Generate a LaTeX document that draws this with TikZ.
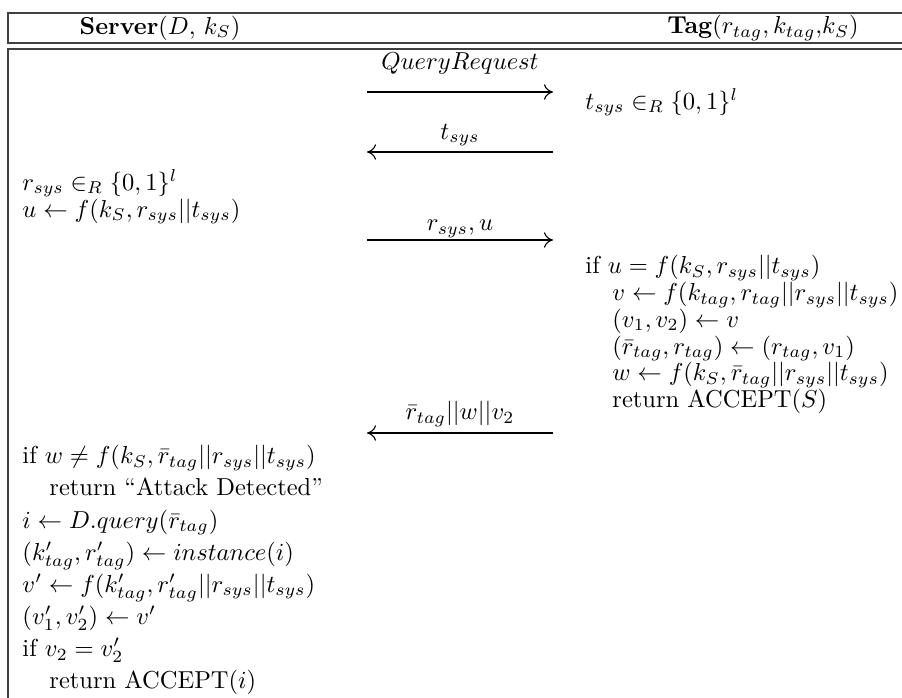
\documentclass[tikz,border=0pt]{standalone}
\usepackage{amsmath,amssymb}
\usetikzlibrary{arrows.meta}

\begin{document}
\begin{tikzpicture}[
  x=0.408pt,y=-0.408pt,
  frame/.style={draw=black!75,line width=0.9pt},
  party/.style={inner sep=0pt},
  proc/.style={anchor=north west,align=left,inner sep=0pt,font=\fontsize{10}{#1}\selectfont},
  proc/.default=10.9pt,
  msg/.style={-{To[length=1.3mm,width=2.2mm]},line width=0.45pt},
  lbl/.style={inner sep=0pt}
]
  \useasboundingbox (0,0) rectangle (902,698);
  % table frame
  \draw[frame] (905,13) -| (8,43) -- (905,43);
  \draw[frame] (905,49) -| (8,705);
  % header
  \node[party] (srv) at (160,28) {\textbf{Server}$(D,\,k_S)$};
  \node[party] (tag) at (763,28) {\textbf{Tag}$(r_{tag}, k_{tag}$,$k_S)$};
  % message ends
  \coordinate (q1) at (367,92);   \coordinate (q2) at (553,92);
  \coordinate (t1) at (367,152);  \coordinate (t2) at (553,152);
  \coordinate (u1) at (367,240);  \coordinate (u2) at (553,240);
  \coordinate (w1) at (367,433);  \coordinate (w2) at (553,433);
  % computations
  \node[proc] (tgen) at (585,88) {$t_{sys} \in_R \{0,1\}^l$};
  \node[proc] (rgen) at (22,169) {$r_{sys} \in_R \{0,1\}^l$\\
    $u \leftarrow f(k_S, r_{sys}||t_{sys})$};
  \node[proc] (tchk) at (585,255) {if $u = f(k_S, r_{sys}||t_{sys})$\\
    \hspace*{1.1em}$v \leftarrow f(k_{tag}, r_{tag}||r_{sys}||t_{sys})$\\
    \hspace*{1.1em}$(v_1,v_2) \leftarrow v$\\
    \hspace*{1.1em}$(\bar{r}_{tag}, r_{tag}) \leftarrow (r_{tag},v_1)$\\
    \hspace*{1.1em}$w \leftarrow f(k_S, \bar{r}_{tag}||r_{sys}||t_{sys})$\\
    \hspace*{1.1em}return ACCEPT$(S)$};
  \node[proc=13.1pt] (schk) at (22,445) {if $w \neq f(k_S, \bar{r}_{tag}||r_{sys}||t_{sys})$\\
    \hspace*{1.1em}return ``Attack Detected''\\
    $i \leftarrow D.query(\bar{r}_{tag})$\\
    $(k'_{tag}, r'_{tag}) \leftarrow instance(i)$\\
    $v' \leftarrow f(k'_{tag}, r'_{tag}||r_{sys}||t_{sys})$\\
    $(v'_1,v'_2) \leftarrow v'$\\
    if $v_2 = v'_2$\\
    \hspace*{1.1em}return ACCEPT$(i)$};
  % messages
  \draw[msg] (q1) -- (q2);
  \node[lbl] (qlbl) at (460,64) {$QueryRequest$};
  \draw[msg] (t2) -- (t1);
  \node[lbl] (tlbl) at (460,135) {$t_{sys}$};
  \draw[msg] (u1) -- (u2);
  \node[lbl] (ulbl) at (460,229) {$r_{sys},u$};
  \draw[msg] (w2) -- (w1);
  \node[lbl] (wlbl) at (460,414) {$\bar{r}_{tag}||w||v_2$};
\end{tikzpicture}
\end{document}
